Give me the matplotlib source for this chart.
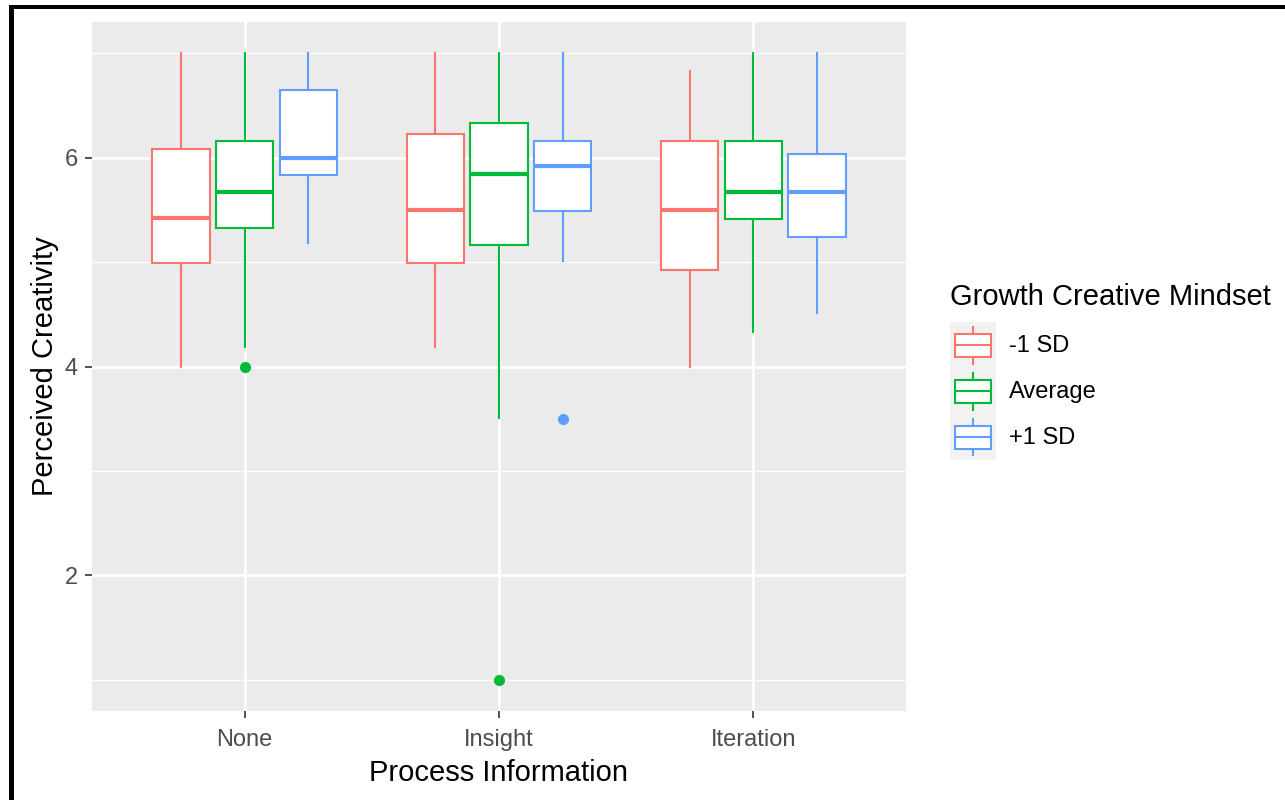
import matplotlib
matplotlib.use("Agg")
import matplotlib.pyplot as plt
import matplotlib.patches as mpatches
from matplotlib.lines import Line2D
from matplotlib.legend_handler import HandlerBase

plt.rcParams['font.family'] = ['Liberation Sans', 'DejaVu Sans']

# ---------------- data ----------------
categories = ['None', 'Insight', 'Iteration']
groups = ['-1 SD', 'Average', '+1 SD']
colors = ['#F8766D', '#00BA38', '#619CFF']

minus1_q1 = [4.99, 4.99, 4.92]
minus1_med = [5.42, 5.50, 5.50]
minus1_q3 = [6.08, 6.23, 6.16]
minus1_lo = [4.00, 4.19, 4.00]
minus1_hi = [7.00, 7.00, 6.83]
minus1_out = [[], [], []]

avg_q1 = [5.33, 5.16, 5.41]
avg_med = [5.67, 5.84, 5.67]
avg_q3 = [6.16, 6.33, 6.16]
avg_lo = [4.19, 3.51, 4.33]
avg_hi = [7.00, 7.00, 7.00]
avg_out = [[4.0], [1.0], []]

plus1_q1 = [5.83, 5.49, 5.24]
plus1_med = [6.00, 5.92, 5.67]
plus1_q3 = [6.65, 6.16, 6.04]
plus1_lo = [5.18, 5.01, 4.51]
plus1_hi = [7.00, 7.00, 7.00]
plus1_out = [[], [3.5], []]

series = [
    (minus1_q1, minus1_med, minus1_q3, minus1_lo, minus1_hi, minus1_out),
    (avg_q1, avg_med, avg_q3, avg_lo, avg_hi, avg_out),
    (plus1_q1, plus1_med, plus1_q3, plus1_lo, plus1_hi, plus1_out),
]

y_major = [2, 4, 6]
y_minor = [1, 3, 5, 7]

# ---------------- figure ----------------
W, H = 1285, 800
fig = plt.figure(figsize=(W / 100, H / 100), dpi=100)
ax = fig.add_axes([92 / W, 1 - 711 / H, (906 - 92) / W, (711 - 22) / H])
ax.set_facecolor('#EBEBEB')
for s in ax.spines.values():
    s.set_visible(False)

dodge = 0.25
bw = 0.225
lw = 1.5
for gi, (q1, med, q3, lo, hi, out) in enumerate(series):
    col = colors[gi]
    stats = []
    for ci in range(len(categories)):
        stats.append(dict(med=med[ci], q1=q1[ci], q3=q3[ci],
                          whislo=lo[ci], whishi=hi[ci], fliers=out[ci]))
    pos = [ci + (gi - 1) * dodge for ci in range(len(categories))]
    ax.bxp(stats, positions=pos, widths=bw, showcaps=False, patch_artist=True,
           manage_ticks=False,
           boxprops=dict(facecolor='white', edgecolor=col, linewidth=lw),
           whiskerprops=dict(color=col, linewidth=lw),
           medianprops=dict(color=col, linewidth=lw * 2, solid_capstyle='butt'),
           flierprops=dict(marker='o', markerfacecolor=col, markeredgecolor=col,
                           markersize=7, linestyle='none'),
           zorder=3)

ax.set_xlim(-0.6, len(categories) - 0.4)
ax.set_ylim(0.7, 7.3)
ax.set_xticks(range(len(categories)))
ax.set_xticklabels(categories)
ax.set_yticks(y_major)
ax.set_yticks(y_minor, minor=True)
ax.grid(which='major', color='white', linewidth=2.0, zorder=0)
ax.grid(which='minor', axis='y', color='white', linewidth=1.0, zorder=0)
ax.set_axisbelow(True)
ax.tick_params(which='major', length=5, width=1.2, color='#333333',
               labelcolor='#4D4D4D', labelsize=17)
ax.tick_params(axis='x', which='major', pad=8)
ax.tick_params(axis='y', which='major', pad=5)
ax.tick_params(which='minor', length=0)

ax.set_xlabel('Process Information', fontsize=21, color='black', labelpad=5.5)
ax.set_ylabel('Perceived Creativity', fontsize=21, color='black', labelpad=4)


# ---------------- legend ----------------
class BoxKey(HandlerBase):
    def legend_artist(self, legend, orig_handle, fontsize, handlebox):
        x0, y0 = -handlebox.xdescent, -handlebox.ydescent
        w, h = handlebox.width, handlebox.height
        tr = handlebox.get_transform()
        col = orig_handle.get_edgecolor()
        bg = mpatches.Rectangle((x0, y0), w, h, facecolor='#F2F2F2',
                                edgecolor='none', transform=tr)
        box = mpatches.Rectangle((x0 + 0.1 * w, y0 + 0.25 * h), 0.8 * w, 0.5 * h,
                                 facecolor='white', edgecolor=col, linewidth=lw,
                                 transform=tr)
        wl = Line2D([x0 + 0.5 * w, x0 + 0.5 * w], [y0 + 0.1 * h, y0 + 0.25 * h],
                    color=col, linewidth=lw, transform=tr)
        wh = Line2D([x0 + 0.5 * w, x0 + 0.5 * w], [y0 + 0.75 * h, y0 + 0.9 * h],
                    color=col, linewidth=lw, transform=tr)
        md = Line2D([x0 + 0.1 * w, x0 + 0.9 * w], [y0 + 0.5 * h, y0 + 0.5 * h],
                    color=col, linewidth=lw, transform=tr)
        for a in (bg, box, wl, wh, md):
            handlebox.add_artist(a)
        return bg


handles = [mpatches.Patch(edgecolor=c, facecolor='white') for c in colors]
leg = fig.legend(handles, groups, handler_map={mpatches.Patch: BoxKey()},
                 loc='upper left', bbox_to_anchor=(950 / W, 1 - 283 / H),
                 frameon=False, fontsize=17, title='Growth Creative Mindset',
                 title_fontsize=21, handlelength=1.95, handleheight=2.62,
                 labelspacing=0, handletextpad=0.55, borderpad=0,
                 borderaxespad=0, alignment='left')
# gap between the legend title and the keys
leg._legend_box.sep = 8

# screenshot border (left and top)
fig.add_artist(mpatches.Rectangle((9 / W, 0), 5 / W, 1 - 5 / H, transform=fig.transFigure,
                                  facecolor='black', edgecolor='none'))
fig.add_artist(mpatches.Rectangle((9 / W, 1 - 9 / H), 1 - 9 / W, 4 / H,
                                  transform=fig.transFigure, facecolor='black',
                                  edgecolor='none'))

fig.savefig('out.png', dpi=100)
